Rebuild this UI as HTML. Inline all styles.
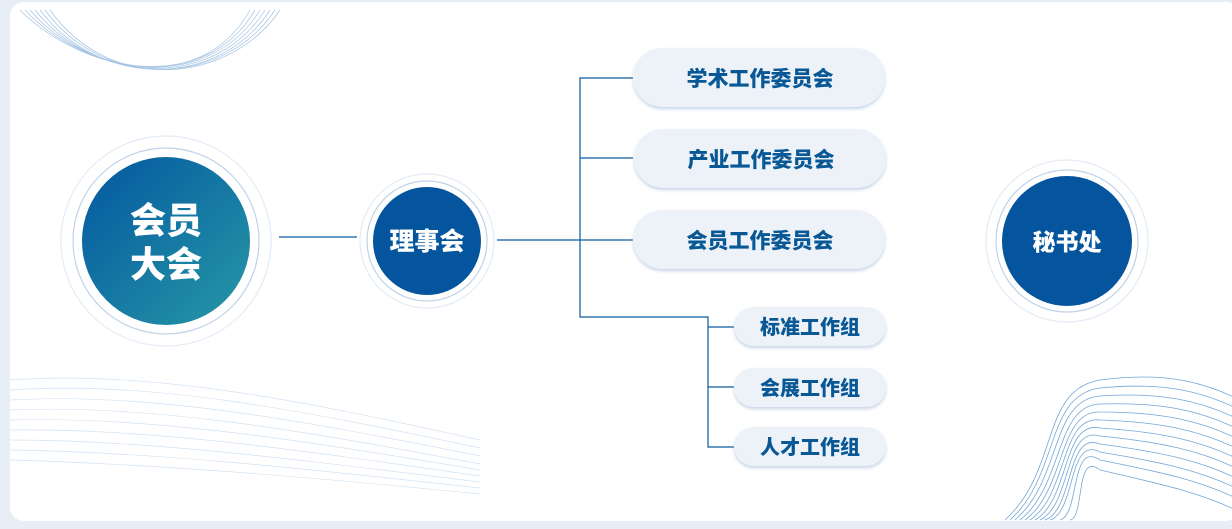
<!DOCTYPE html>
<html><head><meta charset="utf-8"><style>
html,body{margin:0;padding:0;width:1232px;height:529px;overflow:hidden;background:#e8eef6;}
svg{display:block}
text{font-family:"Liberation Sans","Noto Sans CJK SC",sans-serif;font-weight:900;}
</style></head><body>
<svg width="1232" height="529" viewBox="0 0 1232 529" xmlns="http://www.w3.org/2000/svg">
<defs>
<linearGradient id="g1" x1="0" y1="0" x2="1" y2="1"><stop offset="0" stop-color="#0457a0"/><stop offset="1" stop-color="#2698a6"/></linearGradient>
<filter id="sh" x="-10%" y="-20%" width="120%" height="150%"><feDropShadow dx="0" dy="2" stdDeviation="1.5" flood-color="#9fb8d6" flood-opacity="0.6"/></filter>
<clipPath id="card"><rect x="10" y="2" width="1230" height="519" rx="14"/></clipPath>
</defs>
<rect x="10" y="2" width="1230" height="519" rx="14" fill="#fff"/>
<g clip-path="url(#card)" fill="none">
<g stroke="#8fb5dc" stroke-width="0.7" opacity="0.8">
<path d="M20 10 C80 70 200 100 250 10"/><path d="M25 10 C85 75 205 95 255 10"/><path d="M30 10 C90 80 210 92 260 10"/><path d="M35 10 C95 85 215 90 265 10"/><path d="M40 10 C100 90 220 88 270 10"/><path d="M45 10 C105 92 225 86 275 10"/><path d="M50 10 C110 95 230 84 280 10"/>
</g>
<g stroke="#c7dcef" stroke-width="0.7" opacity="0.8">
<path d="M10 380 C150 370 300 400 480 440"/><path d="M10 390 C150 380 300 410 480 448"/><path d="M10 400 C150 392 300 420 480 456"/><path d="M10 410 C150 404 300 430 480 464"/><path d="M10 420 C150 416 300 440 480 470"/><path d="M10 430 C150 428 300 450 480 476"/><path d="M10 440 C150 440 300 460 480 482"/><path d="M10 450 C150 452 300 468 480 488"/><path d="M10 460 C150 464 300 476 480 494"/>
</g>
<g stroke="#5b97cf" stroke-width="0.8" opacity="0.85">
<path d="M1005 520 C1060 470 1040 390 1100 380 C1160 372 1200 380 1240 400"/>
<path d="M1010 520 C1060 475 1045 395 1100 388 C1160 382 1200 390 1240 410"/>
<path d="M1015 520 C1062 480 1050 400 1100 396 C1160 392 1200 400 1240 420"/>
<path d="M1020 520 C1064 485 1055 405 1100 404 C1160 402 1200 410 1240 430"/>
<path d="M1025 520 C1066 490 1058 410 1100 412 C1160 412 1200 420 1240 440"/>
<path d="M1030 520 C1068 495 1060 415 1100 420 C1160 422 1200 430 1240 450"/>
<path d="M1035 520 C1070 500 1062 420 1100 428 C1160 432 1200 440 1240 460"/>
<path d="M1040 520 C1072 505 1064 425 1100 436 C1160 442 1200 450 1240 470"/>
<path d="M1045 520 C1074 510 1066 430 1100 444 C1160 452 1200 460 1240 480"/>
<path d="M1050 520 C1076 512 1068 435 1100 452 C1160 462 1200 470 1240 490"/>
<path d="M1060 520 C1080 515 1070 440 1100 460 C1160 472 1200 480 1240 500"/>
<path d="M1070 520 C1085 518 1075 450 1100 470 C1160 484 1200 492 1240 512"/>
</g>
</g>
<g stroke="#0b5a9c" stroke-width="1.2" fill="none">
<line x1="279" y1="237" x2="357" y2="237"/>
<line x1="497" y1="240" x2="580" y2="240"/>
<polyline points="633,78 580,78 580,317 708,317 708,447 734,447"/>
<line x1="580" y1="158" x2="633" y2="158"/>
<line x1="580" y1="240" x2="633" y2="240"/>
<line x1="708" y1="327" x2="734" y2="327"/>
<line x1="708" y1="387" x2="734" y2="387"/>
</g>
<circle cx="166" cy="241" r="105" fill="#fff" stroke="#e3ebf5" stroke-width="1.2"/>
<circle cx="166" cy="241" r="93" fill="#fff" stroke="#bfd2e8" stroke-width="1.2"/>
<circle cx="166" cy="241" r="84" fill="url(#g1)"/>
<text x="166" y="233" font-size="36" fill="#fff" text-anchor="middle">会员</text>
<text x="166" y="277" font-size="36" fill="#fff" text-anchor="middle">大会</text>
<circle cx="427" cy="241" r="67" fill="#fff" stroke="#e3ebf5" stroke-width="1.2"/>
<circle cx="427" cy="241" r="60" fill="#fff" stroke="#bfd2e8" stroke-width="1.2"/>
<circle cx="427" cy="241" r="54" fill="#04549e"/>
<text x="427" y="250" font-size="25" fill="#fff" text-anchor="middle">理事会</text>
<circle cx="1067" cy="241" r="81" fill="#fff" stroke="#e3ebf5" stroke-width="1.2"/>
<circle cx="1067" cy="241" r="71" fill="#fff" stroke="#bfd2e8" stroke-width="1.2"/>
<circle cx="1067" cy="241" r="65" fill="#04549e"/>
<text x="1067" y="250" font-size="23" fill="#fff" text-anchor="middle">秘书处</text>
<g filter="url(#sh)" fill="#edf2f8">
<rect x="633" y="48" width="252" height="59" rx="29.5"/>
<rect x="634" y="129" width="252" height="59" rx="29.5"/>
<rect x="633" y="210" width="252" height="59" rx="29.5"/>
<rect x="734" y="307" width="152" height="39" rx="19.5"/>
<rect x="734" y="368" width="152" height="39" rx="19.5"/>
<rect x="734" y="427" width="152" height="39" rx="19.5"/>
</g>
<g font-size="21" fill="#095896" text-anchor="middle">
<text x="760" y="86">学术工作委员会</text>
<text x="761" y="167">产业工作委员会</text>
<text x="760" y="248">会员工作委员会</text>
<text x="810" y="334" font-size="20">标准工作组</text>
<text x="810" y="395" font-size="20">会展工作组</text>
<text x="810" y="454" font-size="20">人才工作组</text>
</g>
</svg>
</body></html>
